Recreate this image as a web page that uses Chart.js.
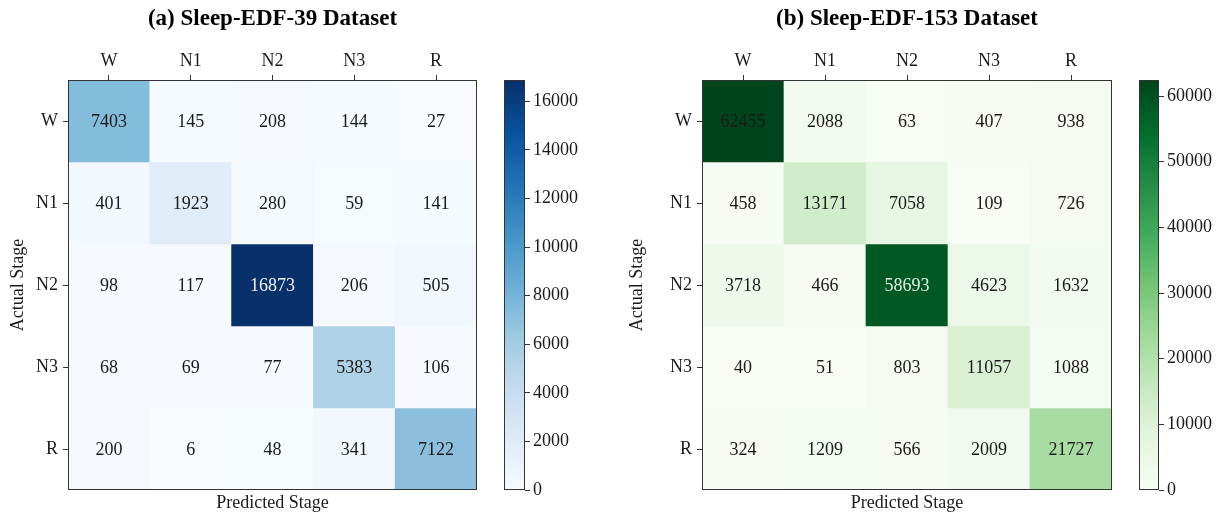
<!DOCTYPE html>
<html><head><meta charset="utf-8">
<script src="https://cdn.jsdelivr.net/npm/chart.js@4"></script>
<style>
html,body{margin:0;padding:0;background:#fff;}
#wrap{position:relative;width:1223px;height:516px;overflow:hidden;background:#fff;}
canvas{position:absolute;top:0;}
</style></head><body>
<div id="wrap">
<canvas id="hmA" width="545" height="516" style="left:0px"></canvas>
<canvas id="cbA" width="110" height="516" style="left:490px"></canvas>
<canvas id="hmB" width="614" height="516" style="left:600px"></canvas>
<canvas id="cbB" width="98" height="516" style="left:1125px"></canvas>
</div>
<script>
// ---- data ----
const stages = ['W', 'N1', 'N2', 'N3', 'R'];

const edf39W  = [7403, 145, 208, 144, 27];
const edf39N1 = [401, 1923, 280, 59, 141];
const edf39N2 = [98, 117, 16873, 206, 505];
const edf39N3 = [68, 69, 77, 5383, 106];
const edf39R  = [200, 6, 48, 341, 7122];

const edf153W  = [62455, 2088, 63, 407, 938];
const edf153N1 = [458, 13171, 7058, 109, 726];
const edf153N2 = [3718, 466, 58693, 4623, 1632];
const edf153N3 = [40, 51, 803, 11057, 1088];
const edf153R  = [324, 1209, 566, 2009, 21727];

const blueTicks  = [0, 2000, 4000, 6000, 8000, 10000, 12000, 14000, 16000];
const greenTicks = [0, 10000, 20000, 30000, 40000, 50000, 60000];

// ---- styles ----
const BLUES  = ['#f7fbff','#deebf7','#c6dbef','#9ecae1','#6baed6','#4292c6','#2171b5','#08519c','#08306b'];
const GREENS = ['#f7fcf5','#e5f5e0','#c7e9c0','#a1d99b','#74c476','#41ab5d','#238b45','#006d2c','#00441b'];
const FAM = '"Liberation Serif", "Times New Roman", serif';
const TXT = '#1a1a1a';
const LINE = '#333333';
Chart.defaults.font.family = FAM;
Chart.defaults.color = TXT;

function hexRgb(h){return [parseInt(h.slice(1,3),16),parseInt(h.slice(3,5),16),parseInt(h.slice(5,7),16)];}
function cmap(stops, t){
  t = Math.max(0, Math.min(1, t));
  const n = stops.length - 1, p = t * n;
  const i = Math.min(Math.floor(p), n - 1), f = p - i;
  const a = hexRgb(stops[i]), b = hexRgb(stops[i+1]);
  const c = a.map((v,k)=>Math.round(v + (b[k]-v)*f));
  return `rgb(${c[0]},${c[1]},${c[2]})`;
}

const cellText = {
  id: 'cellText',
  afterDatasetsDraw(chart, args, o) {
    const ctx = chart.ctx;
    ctx.save();
    ctx.font = '18px ' + FAM;
    ctx.textAlign = 'center';
    ctx.textBaseline = 'middle';
    chart.data.datasets.forEach((ds, i) => {
      chart.getDatasetMeta(i).data.forEach((el, j) => {
        const p = el.getCenterPoint();
        const light = (o.light || []).some(([a,b]) => a === i && b === j);
        ctx.fillStyle = light ? o.lightColor : TXT;
        ctx.fillText(String(ds.values[j]), p.x, p.y + 1);
      });
    });
    ctx.restore();
  },
  afterDraw(chart) {
    const a = chart.chartArea, ctx = chart.ctx;
    ctx.save();
    ctx.strokeStyle = LINE; ctx.lineWidth = 1;
    ctx.strokeRect(Math.round(a.left)+0.5, Math.round(a.top)+0.5, Math.round(a.right-a.left)-1, Math.round(a.bottom-a.top)-1);
    ctx.restore();
  }
};

const TITLE_SIZE = 23, TITLE_PAD = 5;
const PLOT_TOP = 80, PLOT_BOTTOM = 490;

function makeHeatmap(id, cfg) {
  const rows = cfg.rows;
  const vmax = Math.max(...rows.flat());
  const datasets = rows.map((r, i) => ({
    data: r.map(() => [i, i + 1]),
    values: r,
    backgroundColor: r.map(v => cmap(cfg.stops, v / vmax)),
    borderWidth: 0, barPercentage: 1, categoryPercentage: 1, grouped: false
  }));
  const tickFont = {family: FAM, size: 18};
  new Chart(document.getElementById(id), {
    type: 'bar',
    data: {labels: stages, datasets},
    plugins: [cellText],
    options: {
      responsive: false, animation: false, devicePixelRatio: 1,
      layout: {padding: 0},
      scales: {
        x: {
          type: 'category', position: 'top', offset: true,
          grid: {display: true, drawOnChartArea: false, drawTicks: true, tickLength: 5, offset: false, color: LINE},
          border: {display: false},
          ticks: {font: tickFont, color: TXT, padding: 3, maxRotation: 0},
          afterFit: s => { s.height = PLOT_TOP - (TITLE_PAD + TITLE_SIZE * 1.2); }
        },
        x2: {
          type: 'category', position: 'bottom', labels: stages,
          grid: {display: false}, border: {display: false}, ticks: {display: false},
          title: {display: true, text: 'Predicted Stage', font: tickFont, color: TXT, padding: {top: 0, bottom: 2}},
          afterFit: s => { s.height = 516 - PLOT_BOTTOM; }
        },
        y: {
          type: 'linear', min: 0, max: 5, reverse: true,
          afterBuildTicks: s => { s.ticks = stages.map((_, i) => ({value: i + 0.5})); },
          ticks: {font: tickFont, color: TXT, padding: 5, callback: v => stages[Math.floor(v)]},
          grid: {display: true, drawOnChartArea: false, drawTicks: true, tickLength: 5, color: LINE},
          border: {display: false},
          title: {display: true, text: 'Actual Stage', font: tickFont, color: TXT, padding: {top: cfg.yTitlePad, bottom: 0}},
          afterFit: s => { s.width = cfg.plotLeft; }
        },
        yPad: {
          type: 'linear', position: 'right', min: 0, max: 1,
          grid: {display: false}, border: {display: false}, ticks: {display: false},
          afterFit: s => { s.width = cfg.plotLeft; }
        }
      },
      plugins: {
        legend: {display: false}, tooltip: {enabled: false},
        title: {display: true, text: cfg.title, color: '#000', font: {family: FAM, size: TITLE_SIZE, weight: 'bold'}, padding: {top: TITLE_PAD, bottom: 0}},
        cellText: {light: cfg.light, lightColor: cfg.lightColor}
      }
    }
  });
  return vmax;
}

function makeColorbar(id, cfg) {
  new Chart(document.getElementById(id), {
    type: 'bar',
    data: {labels: [''], datasets: [{
      data: [[0, cfg.vmax]],
      backgroundColor: c => {
        const a = c.chart.chartArea;
        if (!a) return cfg.stops[0];
        const g = c.chart.ctx.createLinearGradient(0, a.bottom, 0, a.top);
        cfg.stops.forEach((s, k) => g.addColorStop(k / (cfg.stops.length - 1), s));
        return g;
      },
      borderWidth: 0, barPercentage: 1, categoryPercentage: 1
    }]},
    plugins: [{
      id: 'cbFrame',
      afterDraw(chart) {
        const a = chart.chartArea, ctx = chart.ctx;
        ctx.save(); ctx.strokeStyle = LINE; ctx.lineWidth = 1;
        ctx.strokeRect(Math.round(a.left)+0.5, Math.round(a.top)+0.5, Math.round(a.right-a.left)-1, Math.round(a.bottom-a.top)-1);
        ctx.restore();
      }
    }],
    options: {
      responsive: false, animation: false, devicePixelRatio: 1,
      layout: {padding: {left: 14, right: 0, top: PLOT_TOP, bottom: 516 - PLOT_BOTTOM}},
      scales: {
        x: {display: false},
        y: {
          position: 'right', min: 0, max: cfg.vmax,
          afterBuildTicks: s => { s.ticks = cfg.ticks.map(v => ({value: v})); },
          ticks: {font: {family: FAM, size: 18}, color: TXT, padding: 3, callback: v => String(v)},
          grid: {display: true, drawOnChartArea: false, drawTicks: true, tickLength: 5, color: LINE},
          border: {display: false},
          afterFit: s => { s.width = cfg.axisW; }
        }
      },
      plugins: {legend: {display: false}, tooltip: {enabled: false}}
    }
  });
}

const vmaxA = makeHeatmap('hmA', {
  rows: [edf39W, edf39N1, edf39N2, edf39N3, edf39R],
  title: '(a) Sleep-EDF-39 Dataset', stops: BLUES,
  plotLeft: 68, yTitlePad: 7,
  light: [[2, 2]], lightColor: '#eef3f9'
});
makeColorbar('cbA', {vmax: vmaxA, stops: BLUES, ticks: blueTicks, axisW: 75});

const vmaxB = makeHeatmap('hmB', {
  rows: [edf153W, edf153N1, edf153N2, edf153N3, edf153R],
  title: '(b) Sleep-EDF-153 Dataset', stops: GREENS,
  plotLeft: 102, yTitlePad: 26,
  light: [[2, 2]], lightColor: '#e4ece2'
});
makeColorbar('cbB', {vmax: vmaxB, stops: GREENS, ticks: greenTicks, axisW: 64});
</script>
</body></html>
